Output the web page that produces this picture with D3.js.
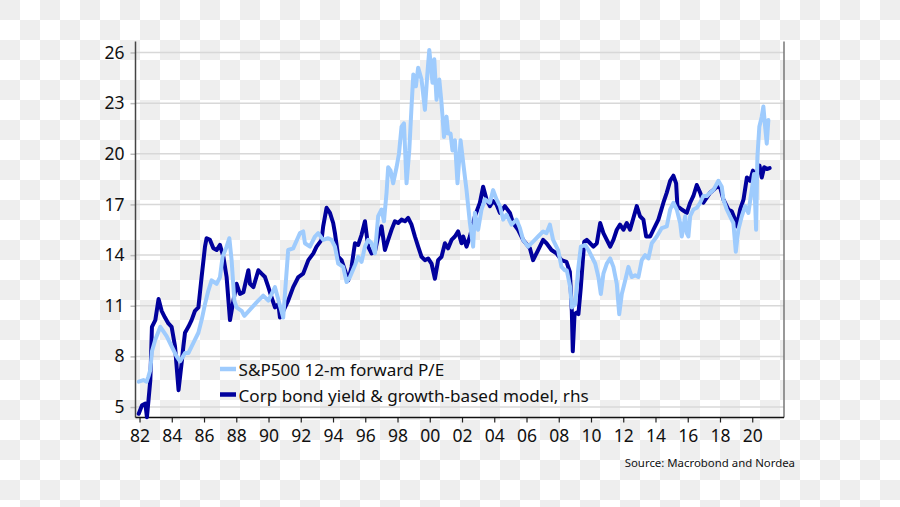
<!DOCTYPE html>
<html><head><meta charset="utf-8">
<script src="https://cdn.jsdelivr.net/npm/d3@7"></script>
<style>
html,body{margin:0;padding:0;background:#fff;}
svg{display:block;}
text{font-family:"Noto Sans","Open Sans",sans-serif;}
</style></head>
<body><svg id="c" width="900" height="507"></svg>
<script>
// ---- data (decimal years, values) ----
const peYears = [1981.95,1982.24,1982.44,1982.55,1982.67,1982.77,1982.98,1983.29,1983.68,1983.99,1984.30,1984.51,1984.82,1985.03,1985.34,1985.65,1985.85,1986.06,1986.27,1986.47,1986.78,1986.99,1987.15,1987.40,1987.57,1987.71,1987.88,1988.02,1988.33,1988.50,1989.26,1989.67,1989.99,1990.40,1990.91,1991.22,1991.53,1991.95,1992.15,1992.26,1992.57,1992.88,1993.08,1993.39,1993.70,1993.91,1994.12,1994.32,1994.63,1994.84,1995.05,1995.36,1995.56,1995.77,1995.98,1996.18,1996.39,1996.60,1996.80,1997.01,1997.16,1997.32,1997.42,1997.57,1997.73,1997.94,1998.09,1998.25,1998.40,1998.56,1998.73,1998.87,1998.98,1999.14,1999.28,1999.49,1999.70,1999.84,1999.97,2000.07,2000.17,2000.28,2000.42,2000.59,2000.73,2000.88,2001.04,2001.14,2001.29,2001.41,2001.56,2001.72,2001.91,2002.07,2002.28,2002.49,2002.69,2002.80,2003.00,2003.21,2003.42,2003.73,2003.93,2004.14,2004.35,2004.55,2004.76,2005.07,2005.38,2005.59,2005.79,2006.10,2006.41,2006.72,2007.03,2007.24,2007.45,2007.65,2007.96,2008.17,2008.38,2008.50,2008.71,2008.81,2009.02,2009.22,2009.37,2009.64,2009.84,2010.05,2010.26,2010.46,2010.61,2010.77,2010.98,2011.19,2011.39,2011.60,2011.75,2011.91,2012.12,2012.32,2012.53,2012.74,2012.94,2013.15,2013.36,2013.56,2013.77,2014.08,2014.39,2014.70,2014.91,2015.11,2015.32,2015.53,2015.63,2015.84,2015.94,2016.04,2016.15,2016.35,2016.56,2016.77,2016.97,2017.18,2017.39,2017.59,2017.90,2018.11,2018.21,2018.42,2018.62,2018.83,2018.98,2019.14,2019.35,2019.56,2019.76,2019.97,2020.11,2020.24,2020.32,2020.44,2020.59,2020.69,2020.80,2020.90,2021.00];
const peValues = [6.5,6.6,6.5,6.8,7.2,8.3,9.0,9.75,9.2,8.6,8.0,7.7,8.2,8.2,8.8,9.4,10.15,11.1,11.9,12.5,12.3,12.7,13.9,14.5,15.0,13.7,11.3,10.9,10.7,10.4,11.2,11.6,11.3,12.1,10.3,14.3,14.4,15.3,15.4,14.7,14.5,15.1,15.3,14.9,15.0,14.9,14.5,13.5,13.3,12.4,12.7,13.4,13.9,13.6,14.5,14.9,14.7,14.1,16.3,16.7,16.0,17.7,19.2,19.0,18.25,19.2,20.0,21.6,21.8,18.25,20.2,22.8,24.7,24.0,25.1,24.4,22.6,24.6,26.15,25.2,24.2,25.6,23.2,24.4,23.0,21.0,22.2,21.2,21.2,20.2,20.8,18.25,20.8,19.5,17.85,15.9,14.5,16.5,15.5,16.7,17.3,17.1,17.85,17.3,16.9,16.1,16.4,15.8,16.1,15.6,14.9,14.5,14.8,15.1,15.4,15.3,15.8,14.9,14.3,13.3,13.1,13.1,12.1,10.9,11.1,13.3,14.5,14.6,14.3,13.9,13.5,12.7,11.7,12.9,13.5,13.8,13.3,12.3,10.5,11.7,12.5,13.3,12.7,12.8,12.7,13.7,14.0,13.8,14.7,15.1,15.6,15.7,16.7,17.1,16.7,15.9,15.1,16.3,15.3,15.1,16.3,16.7,16.8,17.1,17.5,17.5,17.7,17.85,18.4,18.05,17.3,16.7,16.3,15.9,14.2,15.5,16.3,16.9,16.5,17.85,18.8,15.5,19.8,21.6,22.2,22.8,21.6,20.6,22.0];

const modelYears = [1981.95,1982.15,1982.36,1982.46,1982.67,1982.77,1982.98,1983.18,1983.37,1983.58,1983.79,1983.99,1984.20,1984.42,1984.61,1984.72,1984.82,1985.03,1985.23,1985.44,1985.65,1985.85,1986.06,1986.16,1986.37,1986.58,1986.78,1986.99,1987.20,1987.40,1987.61,1987.82,1988.02,1988.23,1988.44,1988.75,1988.85,1989.06,1989.37,1989.57,1989.78,1989.99,1990.19,1990.40,1990.61,1990.71,1990.92,1991.22,1991.53,1991.85,1992.15,1992.47,1992.78,1992.98,1993.29,1993.39,1993.60,1993.81,1994.01,1994.12,1994.32,1994.53,1994.74,1994.94,1995.15,1995.36,1995.56,1995.77,1995.98,1996.18,1996.39,1996.60,1996.80,1997.01,1997.22,1997.42,1997.63,1997.84,1998.04,1998.25,1998.46,1998.66,1998.87,1999.08,1999.28,1999.49,1999.70,1999.90,2000.11,2000.32,2000.52,2000.73,2000.94,2001.14,2001.35,2001.56,2001.76,2001.97,2002.07,2002.28,2002.49,2002.80,2003.11,2003.31,2003.52,2003.73,2003.93,2004.14,2004.35,2004.66,2004.97,2005.17,2005.48,2005.79,2006.21,2006.41,2006.72,2007.03,2007.24,2007.55,2007.86,2008.17,2008.48,2008.69,2008.81,2008.87,2008.98,2009.11,2009.22,2009.37,2009.58,2009.74,2009.95,2010.15,2010.36,2010.57,2010.77,2010.98,2011.19,2011.39,2011.60,2011.80,2012.01,2012.22,2012.42,2012.63,2012.84,2013.04,2013.25,2013.42,2013.67,2013.87,2014.18,2014.49,2014.70,2014.91,2015.11,2015.28,2015.36,2015.63,2015.94,2016.15,2016.35,2016.56,2016.77,2016.97,2017.18,2017.39,2017.59,2017.80,2018.01,2018.21,2018.52,2018.73,2018.94,2019.05,2019.25,2019.46,2019.67,2019.87,2020.04,2020.18,2020.32,2020.45,2020.59,2020.74,2020.91,2021.08];
const modelValues = [4.6,5.1,5.2,4.4,6.6,9.75,10.15,11.4,10.7,10.3,9.95,9.75,8.6,6.0,7.6,8.6,9.4,9.75,10.15,10.7,10.9,12.7,14.5,15.0,14.9,14.4,14.3,14.6,13.9,12.7,10.15,11.3,12.3,11.7,11.8,13.1,12.3,12.1,13.1,12.9,12.7,12.1,11.5,10.9,11.1,10.3,10.7,11.3,12.1,12.7,12.9,13.7,14.1,14.5,14.9,15.7,16.8,16.5,15.9,15.3,13.9,13.7,13.1,12.5,13.3,14.7,14.6,15.2,16.0,14.5,14.1,14.2,15.1,15.7,14.3,14.9,15.5,16.0,15.9,16.1,16.0,16.2,15.8,15.1,14.5,13.9,13.7,13.8,13.5,12.6,13.7,13.9,14.7,14.4,14.9,15.1,15.4,14.7,15.1,14.5,15.1,16.3,17.1,18.05,17.3,16.9,17.2,17.0,16.5,16.9,16.5,15.9,15.5,14.9,14.4,13.7,14.3,14.9,14.7,14.3,14.1,13.7,13.6,13.0,10.7,8.3,10.5,10.6,10.5,12.1,14.8,14.9,14.7,14.5,14.7,15.9,15.3,14.9,14.5,14.9,15.5,15.8,15.5,15.9,15.5,16.2,16.9,16.3,16.1,15.1,15.1,15.5,16.1,17.1,17.7,18.4,18.7,18.25,16.9,16.7,16.5,17.1,17.5,18.15,17.7,17.1,17.4,17.7,17.85,18.05,18.0,17.3,16.7,16.6,16.1,15.7,16.7,17.3,18.6,18.4,19.0,18.4,19.0,19.3,18.6,19.2,19.1,19.15];

const yTicks = [5, 8, 11, 14, 17, 20, 23, 26];
const xTicks = [1982,1984,1986,1988,1990,1992,1994,1996,1998,2000,2002,2004,2006,2008,2010,2012,2014,2016,2018,2020];
const seriesNames = ["S&P500 12-m forward P/E", "Corp bond yield & growth-based model, rhs"];
const sourceText = "Source: Macrobond and Nordea";

// ---- layout ----
const W = 900, H = 507;
const L = 135.5, R = 784, T = 41.5, B = 417.5;
const colLight = "#9ecbfd", colDark = "#00009c";

const svg = d3.select("#c");

// checkerboard background (as in reference image), 20px cells
const cell = 20;
const cells = [];
for (let i = 0; i < Math.ceil(W / cell); i++)
  for (let j = 0; j < Math.ceil(H / cell); j++)
    if ((i + j) % 2 === 0) cells.push([i, j]);
svg.append("rect").attr("width", W).attr("height", H).attr("fill", "#ffffff");
svg.append("g").selectAll("rect").data(cells).join("rect")
  .attr("x", d => d[0] * cell).attr("y", d => d[1] * cell)
  .attr("width", cell).attr("height", cell).attr("fill", "#eeeeee");

const x = d3.scaleLinear().domain([1981.75, 2021.97]).range([L, R]);
const y = d3.scaleLinear().domain([4.38, 26.65]).range([B, T]);
const yR = d3.scaleLinear().domain([4.38, 26.65]).range([B, T]);

// gridlines
svg.append("g").selectAll("line").data(yTicks).join("line")
  .attr("x1", L).attr("x2", R).attr("y1", d => y(d)).attr("y2", d => y(d))
  .attr("stroke", "#d8d8d8").attr("stroke-width", 1.5);

// left axis
const gy = svg.append("g").attr("transform", `translate(${L},0)`)
  .call(d3.axisLeft(y).tickValues(yTicks).tickSize(5).tickPadding(6).tickFormat(d3.format("d")));
gy.select(".domain").remove();
gy.selectAll(".tick line").attr("stroke", "#bbb").attr("stroke-width", 1.5);
gy.selectAll("text").attr("font-size", 17.5).attr("fill", "#111");

// bottom axis
const gx = svg.append("g").attr("transform", `translate(0,${B})`)
  .call(d3.axisBottom(x).tickValues(xTicks).tickSize(5).tickPadding(7)
    .tickFormat(d => String(d % 100).padStart(2, "0")));
gx.select(".domain").remove();
gx.selectAll(".tick line").attr("stroke", "#222").attr("stroke-width", 1.2);
gx.selectAll("text").attr("font-size", 17.5).attr("fill", "#111");

// frame lines
svg.append("line").attr("x1", L).attr("x2", L).attr("y1", T).attr("y2", B)
  .attr("stroke", "#444").attr("stroke-width", 1.5);
svg.append("line").attr("x1", R).attr("x2", R).attr("y1", T).attr("y2", B)
  .attr("stroke", "#777").attr("stroke-width", 1.5);
svg.append("line").attr("x1", L).attr("x2", R).attr("y1", B).attr("y2", B)
  .attr("stroke", "#111").attr("stroke-width", 1.5);

// series
const lineL = d3.line().x(d => x(d[0])).y(d => y(d[1]));
const lineR = d3.line().x(d => x(d[0])).y(d => yR(d[1]));
const peData = peYears.map((t, i) => [t, peValues[i]]);
const modelData = modelYears.map((t, i) => [t, modelValues[i]]);

svg.append("path").datum(modelData).attr("d", lineR)
  .attr("fill", "none").attr("stroke", colDark).attr("stroke-width", 4)
  .attr("stroke-linejoin", "round").attr("stroke-linecap", "round");
svg.append("path").datum(peData).attr("d", lineL)
  .attr("fill", "none").attr("stroke", colLight).attr("stroke-width", 4)
  .attr("stroke-linejoin", "round").attr("stroke-linecap", "round");

// legend
const leg = svg.append("g");
const legItems = [{name: seriesNames[0], color: colLight, y: 369}, {name: seriesNames[1], color: colDark, y: 394.5}];
legItems.forEach(it => {
  leg.append("line").attr("x1", 220).attr("x2", 236).attr("y1", it.y).attr("y2", it.y)
    .attr("stroke", it.color).attr("stroke-width", 4.5);
  leg.append("text").attr("x", 238.5).attr("y", it.y + 7).attr("font-size", 17.1)
    .attr("fill", "#111").text(it.name);
});

// source
svg.append("text").attr("x", 795).attr("y", 466.5).attr("text-anchor", "end")
  .attr("font-family", "Roboto, sans-serif")
  .attr("font-size", 11.4).attr("fill", "#111").text(sourceText);
</script>
</body></html>
